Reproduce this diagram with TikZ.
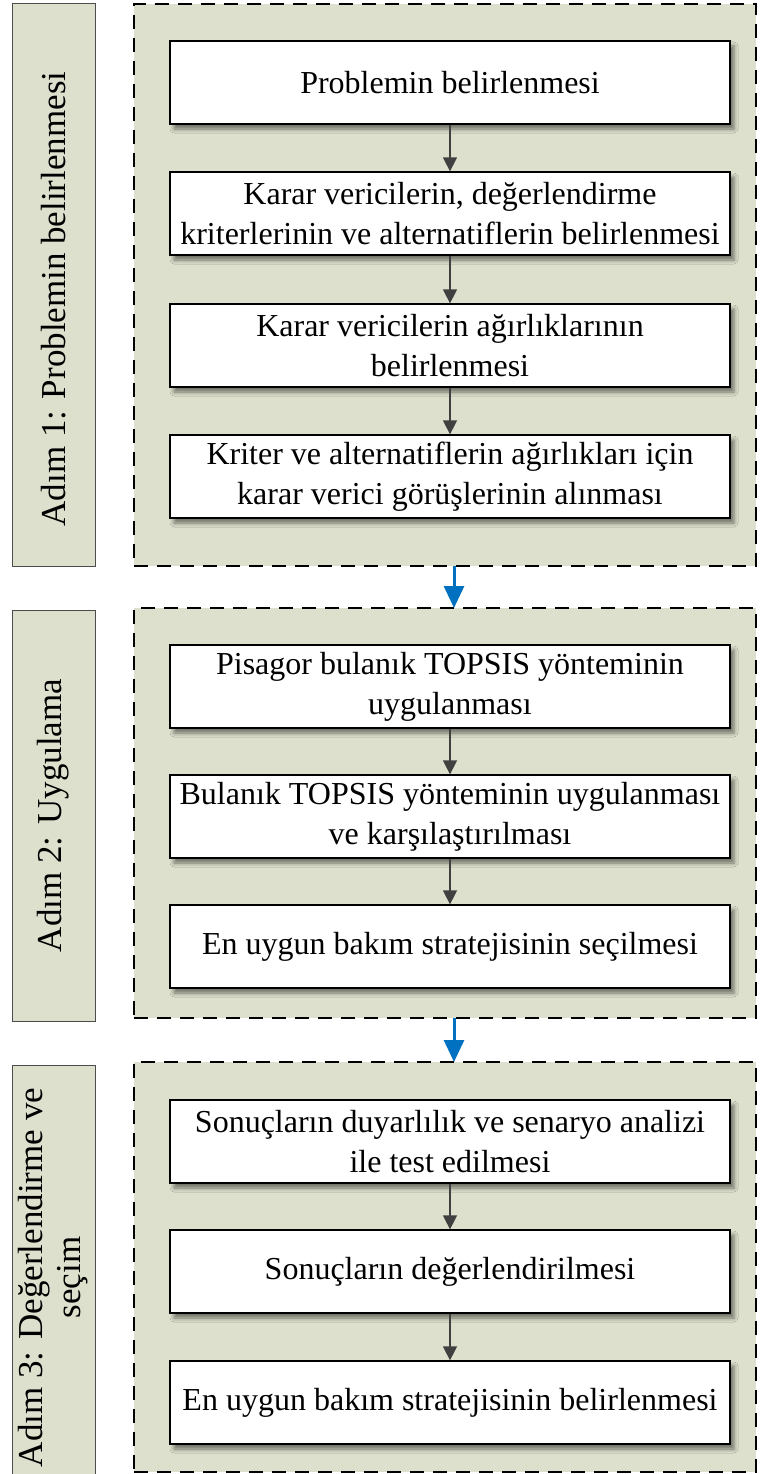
\documentclass[tikz,border=0pt]{standalone}
\usepackage{fontspec}
\setmainfont{Liberation Serif}
\usetikzlibrary{arrows.meta,shadows.blur}

\definecolor{panelfill}{RGB}{221,224,204}
\definecolor{stepblue}{RGB}{0,112,192}

\begin{document}
\begin{tikzpicture}[x=1pt,y=-1pt,
  panel/.style={draw=black, line width=2.2pt, dash pattern=on 14pt off 9pt,
    fill=panelfill, inner sep=0pt, outer sep=0pt},
  tag/.style={draw=black!70, line width=1pt, fill=panelfill, rotate=90,
    align=center, inner sep=0pt, outer sep=0pt, minimum height=83pt,
    font=\fontsize{35}{38}\selectfont},
  stepbox/.style={draw=black, line width=1.3pt, fill=white,
    minimum width=560pt, minimum height=83pt, align=center, inner sep=0pt,
    font=\fontsize{32}{40}\selectfont,
    blur shadow={shadow xshift=4pt, shadow yshift=-5pt,
      shadow blur radius=4pt, shadow opacity=50}},
  flow/.style={draw=black!75, line width=1.5pt,
    -{Triangle[width=14pt,length=14pt]}},
  jump/.style={draw=stepblue, line width=3pt,
    -{Triangle[width=20pt,length=22pt]}}
]
\useasboundingbox (0,0) rectangle (763,1474);
\clip (0,0) rectangle (763,1474);

% step labels on the left
\node[tag, minimum width=562pt] (T1) at (53.5,285) {Adım 1: Problemin belirlenmesi\hspace*{28pt}};
\node[tag, minimum width=411pt] (T2) at (53.5,815.5) {Adım 2: Uygulama};
\node[tag, minimum width=425pt] (T3) at (53.5,1277.5) {Adım 3: Değerlendirme ve\\ seçim};

% dashed step panels
\node[panel, minimum width=622pt, minimum height=562pt] (P1) at (445,285) {};
\node[panel, minimum width=622pt, minimum height=410pt] (P2) at (445,813) {};
\node[panel, minimum width=622pt, minimum height=410pt] (P3) at (445,1267) {};

% step 1
\node[stepbox] (a1) at (450,82.5) {Problemin belirlenmesi};
\node[stepbox] (a2) at (450,213.5) {Karar vericilerin, değerlendirme\\ kriterlerinin ve alternatiflerin belirlenmesi};
\node[stepbox] (a3) at (450,345.5) {Karar vericilerin ağırlıklarının\\ belirlenmesi};
\node[stepbox] (a4) at (450,476.5) {Kriter ve alternatiflerin ağırlıkları için\\ karar verici görüşlerinin alınması};

% step 2
\node[stepbox] (b1) at (450,686.5) {Pisagor bulanık TOPSIS yönteminin\\ uygulanması};
\node[stepbox] (b2) at (450,816.5) {Bulanık TOPSIS yönteminin uygulanması\\ ve karşılaştırılması};
\node[stepbox] (b3) at (450,946.5) {En uygun bakım stratejisinin seçilmesi};

% step 3
\node[stepbox] (c1) at (450,1141.5) {Sonuçların duyarlılık ve senaryo analizi\\ ile test edilmesi};
\node[stepbox] (c2) at (450,1271.5) {Sonuçların değerlendirilmesi};
\node[stepbox] (c3) at (450,1402.5) {En uygun bakım stratejisinin belirlenmesi};

% connectors inside the panels
\draw[flow] (a1) -- (a2);
\draw[flow] (a2) -- (a3);
\draw[flow] (a3) -- (a4);
\draw[flow] (b1) -- (b2);
\draw[flow] (b2) -- (b3);
\draw[flow] (c1) -- (c2);
\draw[flow] (c2) -- (c3);

% transitions between panels
\draw[jump] ([xshift=9pt]P1.south) -- ([xshift=9pt]P2.north);
\draw[jump] ([xshift=9pt]P2.south) -- ([xshift=9pt]P3.north);
\end{tikzpicture}
\end{document}
